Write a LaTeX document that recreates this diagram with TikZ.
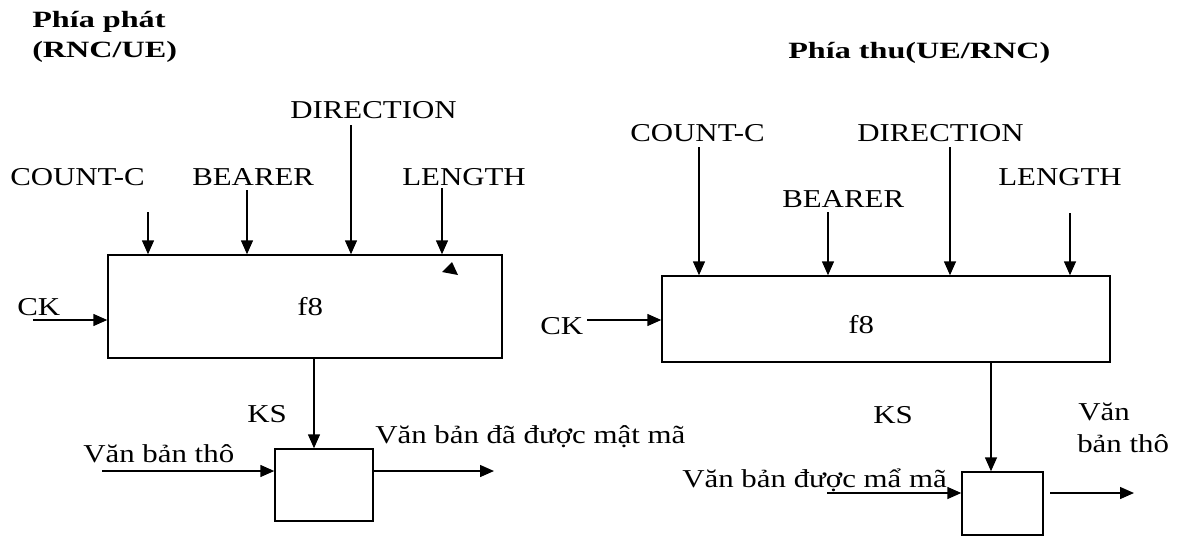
\documentclass[tikz,border=0pt]{standalone}
\usepackage{fontspec}
\setmainfont{Liberation Serif}[FakeStretch=1.2]
\newfontfamily\ttlfont{Liberation Serif}[FakeStretch=1.38]
\usetikzlibrary{arrows.meta,fit}
\begin{document}
\begin{tikzpicture}[x=0.75pt,y=-0.75pt,
 lbl/.style={anchor=base west, inner sep=0, font=\fontsize{19.3}{23}\selectfont},
 ttl/.style={anchor=base west, inner sep=0, font=\ttlfont\bfseries\fontsize{17.5}{20}\selectfont},
 arr/.style={-{Triangle[length=10.5pt,width=9pt]}, line width=1.1pt},
 blk/.style={draw, line width=1.1pt, inner sep=0}]
\useasboundingbox (0,0) rectangle (1189,537);

% ---------- left: sender ----------
\node[ttl] (t1a) at (32,27) {Phía phát};
\node[ttl] (t1b) at (32,57) {(RNC/UE)};

\node[blk, fit={(108,255) (502,358)}] (F1) {};
\node[lbl] (f1) at (297,315) {f8};

\node[lbl] (lc1) at (10,185) {COUNT-C};
\node[lbl] (lb1) at (192,185) {BEARER};
\node[lbl] (ld1) at (290,118) {DIRECTION};
\node[lbl] (ll1) at (402,185) {LENGTH};
\node[lbl] (lk1) at (17,315) {CK};

\coordinate (sc1) at (148,212);
\coordinate (sb1) at (247,190);
\coordinate (sd1) at (351,125);
\coordinate (sl1) at (442,188);
\coordinate (sk1) at (33,320);
\draw[arr] (sc1) -- (sc1 |- F1.north);
\draw[arr] (sb1) -- (sb1 |- F1.north);
\draw[arr] (sd1) -- (sd1 |- F1.north);
\draw[arr] (sl1) -- (sl1 |- F1.north);
\draw[arr] (sk1) -- (sk1 -| F1.west);
\fill (442,272) -- (452,262) -- (458,275) -- cycle;

\node[blk, fit={(275,449) (373,521)}] (X1) {};
\node[lbl] (ks1) at (247,422) {KS};
\draw[arr] (F1.south -| 314,0) -- (X1.north -| 314,0);

\coordinate (in1) at (102,471);
\coordinate (out1) at (494,471);
\draw[arr] (in1) -- (in1 -| X1.west);
\draw[arr] (out1 -| X1.east) -- (out1);
\node[lbl] (li1) at (83,462) {Văn bản thô};
\node[lbl] (lo1) at (375,443) {Văn bản đã được mật mã};

% ---------- right: receiver ----------
\node[ttl] (t2) at (788,58) {Phía thu(UE/RNC)};

\node[blk, fit={(662,276) (1110,362)}] (F2) {};
\node[lbl] (f2) at (848,333) {f8};

\node[lbl] (lc2) at (630,141) {COUNT-C};
\node[lbl] (lb2) at (782,207) {BEARER};
\node[lbl] (ld2) at (857,141) {DIRECTION};
\node[lbl] (ll2) at (998,185) {LENGTH};
\node[lbl] (lk2) at (540,334) {CK};

\coordinate (sc2) at (699,147);
\coordinate (sb2) at (828,212);
\coordinate (sd2) at (950,147);
\coordinate (sl2) at (1070,213);
\coordinate (sk2) at (587,320);
\draw[arr] (sc2) -- (sc2 |- F2.north);
\draw[arr] (sb2) -- (sb2 |- F2.north);
\draw[arr] (sd2) -- (sd2 |- F2.north);
\draw[arr] (sl2) -- (sl2 |- F2.north);
\draw[arr] (sk2) -- (sk2 -| F2.west);

\node[blk, fit={(962,472) (1043,535)}] (X2) {};
\node[lbl] (ks2) at (873,423) {KS};
\draw[arr] (F2.south -| 991,0) -- (X2.north -| 991,0);

\coordinate (in2) at (827,493);
\coordinate (out2s) at (1050,493);
\coordinate (out2) at (1134,493);
\draw[arr] (in2) -- (in2 -| X2.west);
\draw[arr] (out2s) -- (out2);
\node[lbl] (li2) at (682,487) {Văn bản được mẩ mã};
\node[lbl] (lo2a) at (1078,420) {Văn};
\node[lbl] (lo2b) at (1077,452) {bản thô};
\end{tikzpicture}
\end{document}
